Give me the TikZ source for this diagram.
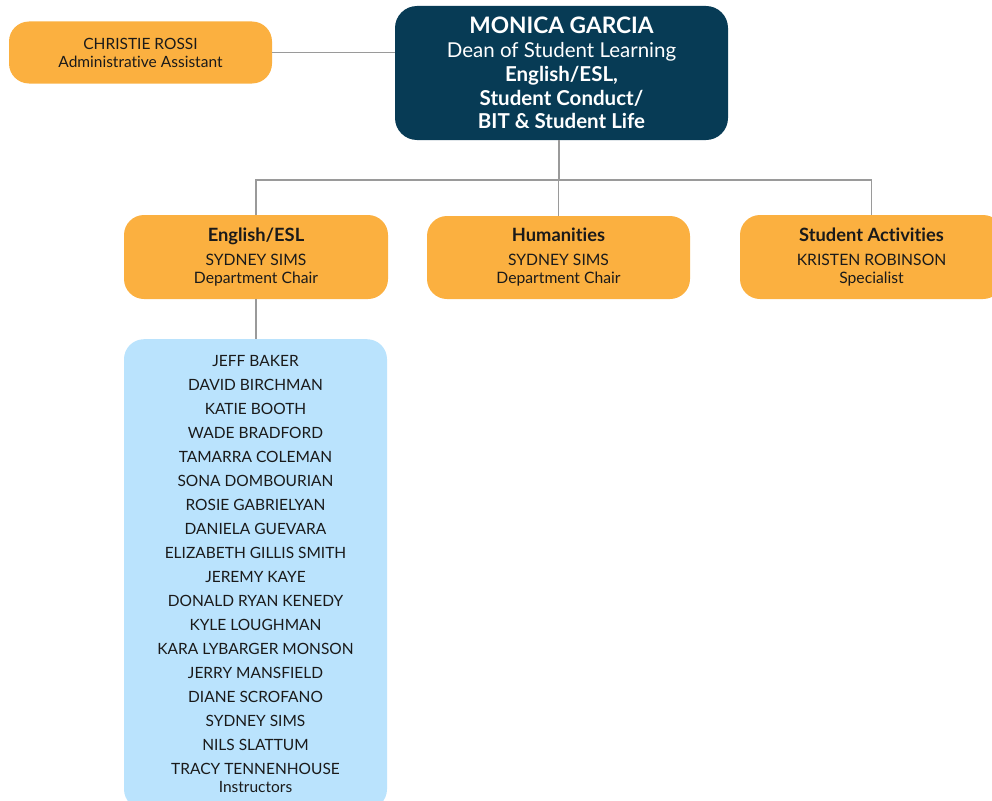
\documentclass[tikz,border=0pt]{standalone}
\usepackage{fontspec}
\setmainfont{Lato}[Ligatures=NoCommon]
\definecolor{deptorange}{HTML}{FBB040}
\definecolor{deanteal}{HTML}{073B55}
\definecolor{staffblue}{HTML}{BAE3FD}
\definecolor{linkgray}{HTML}{9A9A9A}
\definecolor{inktext}{HTML}{1A1A1A}
\tikzset{
  orgbox/.style={rounded corners=20pt, inner sep=0pt, align=center},
  orangebox/.style={orgbox, fill=deptorange, text=inktext},
  deanbox/.style={orgbox, rounded corners=22pt, fill=deanteal, text=white},
  staffbox/.style={orgbox, fill=staffblue},
  link/.style={draw=linkgray, line width=1.1pt},
  bodytext/.style={font=\fontsize{15.7}{18}\selectfont},
}
\newcommand{\depttitle}[1]{{\fontsize{18.3}{18}\selectfont\bfseries #1}}
\begin{document}
\begin{tikzpicture}[x=1pt,y=-1pt]
\useasboundingbox (0,0) rectangle (992,800);
\begin{scope}
\clip (0,0) rectangle (992,800);

% Dean and assistant
\node[deanbox, minimum width=333pt, minimum height=134pt,
      font=\fontsize{20.5}{23.8}\selectfont] (dean) at (561.5,73)
  {{\fontsize{22.7}{23.8}\selectfont\bfseries MONICA GARCIA}\\
   Dean of Student Learning\\
   \textbf{English/ESL,}\\
   \textbf{Student Conduct/}\\
   \textbf{BIT \& Student Life}};
\node[orangebox, minimum width=263pt, minimum height=62pt,
      font=\fontsize{15.5}{18}\selectfont] (assistant) at (140.5,52.5)
  {CHRISTIE ROSSI\\Administrative Assistant};
\path (assistant.center) ++(0,-1) coordinate (assistantmid);

% Departments
\node[orangebox, minimum width=264pt, minimum height=84pt, bodytext] (english) at (256,257)
  {\depttitle{English/ESL}\\[6pt]
   SYDNEY SIMS\\Department Chair};
\node[orangebox, minimum width=263pt, minimum height=83pt, bodytext] (humanities) at (558.5,257.5)
  {\depttitle{Humanities}\\[6pt]
   SYDNEY SIMS\\Department Chair};
\node[orangebox, minimum width=263pt, minimum height=84pt, bodytext] (activities) at (871.5,257)
  {\depttitle{Student Activities}\\[6pt]
   KRISTEN ROBINSON\\Specialist};

% Instructors
\node[staffbox, minimum width=263pt, minimum height=470pt, anchor=north] (staff) at (255.5,339) {};
\node[align=center, text=inktext, inner sep=0pt, anchor=north,
      font=\fontsize{15.5}{24}\selectfont] (names) at (255.5,355.5)
  {JEFF BAKER\\
   DAVID BIRCHMAN\\
   KATIE BOOTH\\
   WADE BRADFORD\\
   TAMARRA COLEMAN\\
   SONA DOMBOURIAN\\
   ROSIE GABRIELYAN\\
   DANIELA GUEVARA\\
   ELIZABETH GILLIS SMITH\\
   JEREMY KAYE\\
   DONALD RYAN KENEDY\\
   KYLE LOUGHMAN\\
   KARA LYBARGER MONSON\\
   JERRY MANSFIELD\\
   DIANE SCROFANO\\
   SYDNEY SIMS\\
   NILS SLATTUM\\
   TRACY TENNENHOUSE\\[-6pt]
   Instructors};

% Connectors
\coordinate (bus) at (559,180);
\draw[link] (assistant.east) -- (assistant.east -| dean.west);
\draw[link] (bus |- dean.south) -- (bus);
\draw[link] (english.north) |- (bus) -| (activities.north);
\draw[link] (humanities.north) -- (humanities.north |- bus);
\draw[link] (english.south) -- (staff.north -| english.south);
\end{scope}
\end{tikzpicture}
\end{document}
